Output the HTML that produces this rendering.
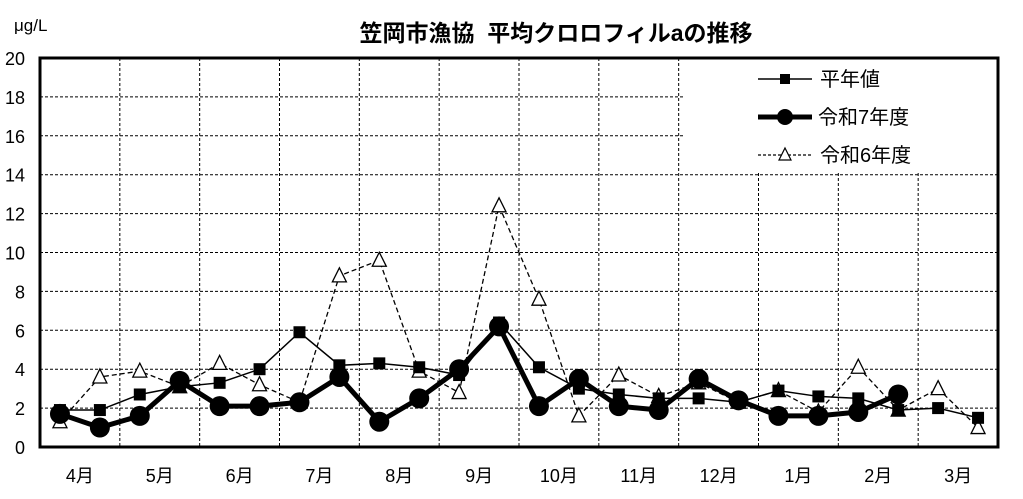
<!DOCTYPE html>
<html><head><meta charset="utf-8"><style>
html,body{margin:0;padding:0;background:#fff;}
svg{display:block;font-family:"Liberation Sans","Noto Sans CJK JP",sans-serif;}
</style></head><body>
<svg id="c" width="1023" height="499" viewBox="0 0 1023 499" xmlns="http://www.w3.org/2000/svg">
<rect width="1023" height="499" fill="#fff"/>
<text x="556" y="41" font-size="23" font-weight="bold" text-anchor="middle">笠岡市漁協&#160;&#160;平均クロロフィルaの推移</text>
<text x="14" y="31" font-size="17">μg/L</text>
<g id="grid"></g>
<g id="series"></g>
<rect x="683" y="59" width="314" height="114" fill="#fff"/>
<rect x="40" y="58" width="958" height="389" fill="none" stroke="#000" stroke-width="3"/>
<g>
<line x1="758" y1="79" x2="812" y2="79" stroke="#000" stroke-width="1.5"/>
<rect x="780" y="74" width="10" height="10" fill="#000"/>
<text x="820" y="86" font-size="20">平年値</text>
<line x1="758" y1="117" x2="812" y2="117" stroke="#000" stroke-width="5"/>
<circle cx="785" cy="117" r="8" fill="#000"/>
<text x="818" y="124" font-size="20">令和7年度</text>
<line x1="758" y1="155" x2="812" y2="155" stroke="#000" stroke-width="1.2" stroke-dasharray="3,2"/>
<polygon points="785,148 791,160 779,160" fill="#fff" stroke="#000" stroke-width="1.2"/>
<text x="820" y="162" font-size="20">令和6年度</text>
</g>
</svg>
<script>
const NS="http://www.w3.org/2000/svg";
const L=40,R=998,T=58,B=447;
const yv=v=>B-v*(B-T)/20, xi=i=>L+(i+0.5)*(R-L)/24;
const g=document.getElementById('grid'), s=document.getElementById('series'), svg=document.getElementById('c');
function el(p,t,a){const e=document.createElementNS(NS,t);for(const k in a)e.setAttribute(k,a[k]);p.appendChild(e);return e;}
for(let v=2;v<20;v+=2){el(g,'line',{x1:L,x2:R,y1:yv(v),y2:yv(v),stroke:'#000','stroke-width':1,'stroke-dasharray':'3,2'});}
for(let m=1;m<12;m++){const x=L+m*(R-L)/12;el(g,'line',{x1:x,x2:x,y1:T,y2:B,stroke:'#000','stroke-width':1,'stroke-dasharray':'3,2'});}
for(let v=0;v<=20;v+=2){const t=el(svg,'text',{x:25,y:yv(v)+7,'font-size':18,'text-anchor':'end'});t.textContent=v;}
const months=['4月','5月','6月','7月','8月','9月','10月','11月','12月','1月','2月','3月'];
months.forEach((m,i)=>{const t=el(svg,'text',{x:L+(i+0.5)*(R-L)/12,y:482,'font-size':18,'text-anchor':'middle'});t.textContent=m;});
const avg=[1.9,1.9,2.7,3.1,3.3,4.0,5.9,4.2,4.3,4.1,3.7,6.4,4.1,3.0,2.7,2.5,2.5,2.3,2.9,2.6,2.5,1.9,2.0,1.5];
const r7=[1.7,1.0,1.6,3.4,2.1,2.1,2.3,3.6,1.3,2.5,4.0,6.2,2.1,3.5,2.1,1.9,3.5,2.4,1.6,1.6,1.8,2.7];
const r6=[1.3,3.6,3.9,3.1,4.3,3.2,2.3,8.8,9.6,3.9,2.8,12.4,7.6,1.6,3.7,2.6,3.3,2.3,2.9,1.8,4.1,1.9,3.0,1.0];
const pts=a=>a.map((v,i)=>xi(i)+','+yv(v)).join(' ');
el(s,'polyline',{points:pts(r6),fill:'none',stroke:'#000','stroke-width':1.3,'stroke-dasharray':'5,3'});
r6.forEach((v,i)=>{const x=xi(i),y=yv(v);el(s,'polygon',{points:`${x},${y-8} ${x+7},${y+6} ${x-7},${y+6}`,fill:'#fff',stroke:'#000','stroke-width':1.3});});
el(s,'polyline',{points:pts(avg),fill:'none',stroke:'#000','stroke-width':1.5});
avg.forEach((v,i)=>{el(s,'rect',{x:xi(i)-6,y:yv(v)-6,width:12,height:12,fill:'#000'});});
el(s,'polyline',{points:pts(r7),fill:'none',stroke:'#000','stroke-width':5,'stroke-linejoin':'round'});
r7.forEach((v,i)=>{el(s,'circle',{cx:xi(i),cy:yv(v),r:10,fill:'#000'});});
</script>
</body></html>
